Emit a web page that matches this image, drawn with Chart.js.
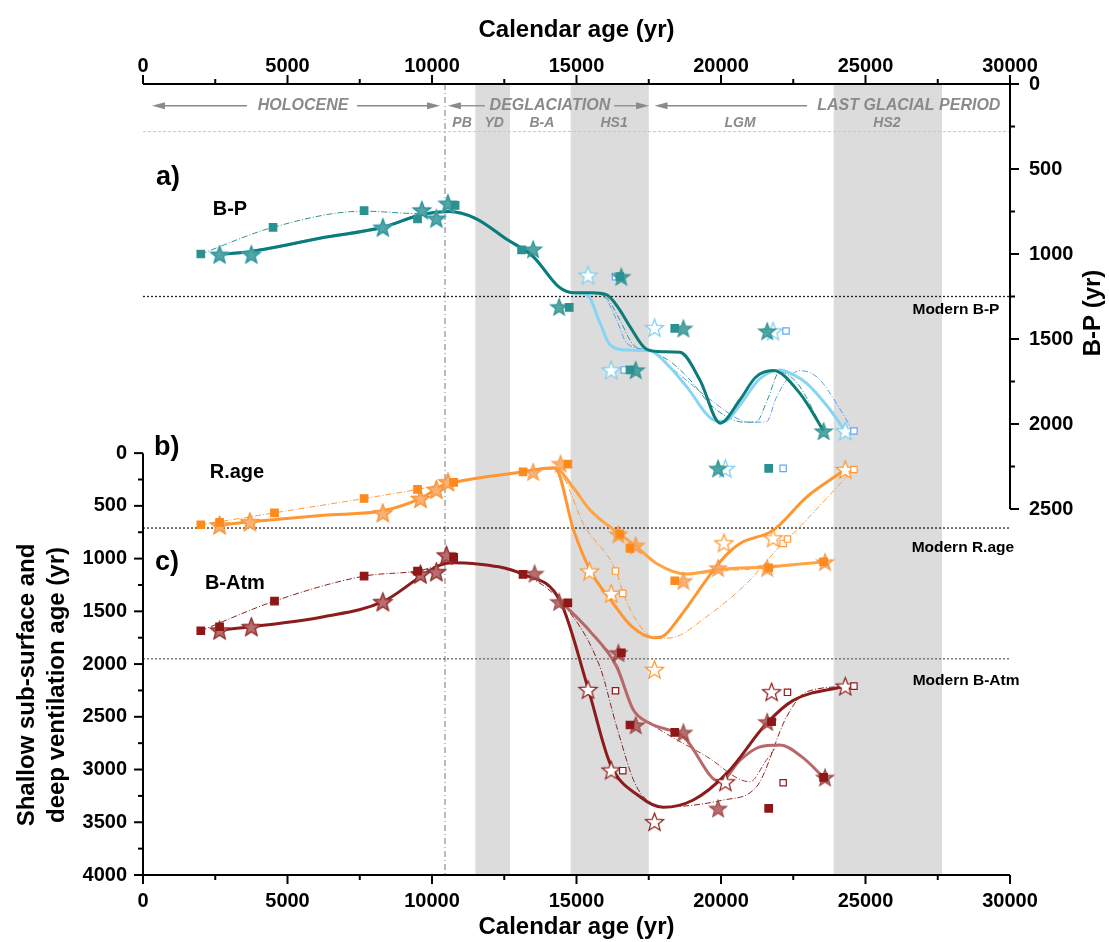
<!DOCTYPE html>
<html>
<head>
<meta charset="utf-8">
<script src="https://cdn.jsdelivr.net/npm/chart.js@4.4.0/dist/chart.umd.min.js"></script>
<style>
  body { margin: 0; background: #fff; }
  canvas { display: block; }
</style>
</head>
<body>
<canvas id="chart" width="1109" height="942"></canvas>
<script>
// Calendar age (yr) against ventilation ages (yr)

// a) B-P (right axis)
const bpSquares     = [[2000,1000],[4500,843],[7650,745],[9500,794],[10800,714],[13100,976],[14750,1314],[16500,1133],[16850,1682],[18400,1437],[21650,2261]];
const bpOpenSquares = [[16350,1133],[16650,1682],[22250,1453],[22150,2261],[24600,2041]];
const bpStars       = [[2650,1002],[3750,1002],[8300,843],[9650,741],[10150,790],[10550,702],[13500,971],[14400,1310],[16550,1133],[17050,1682],[18700,1437],[19900,2261],[21600,1453],[23550,2041]];
const bpOpenStars   = [[2650,1002],[3750,1002],[8300,843],[9650,741],[10150,790],[10550,702],[15400,1124],[16200,1682],[17700,1433],[20150,2261],[21800,1453],[24300,2041]];
const bpCurveA = [[2650,1002],[3750,985],[6200,905],[8300,843],[9650,768],[10600,750],[11500,790],[12600,915],[13500,1015],[14400,1195],[14900,1228],[15500,1228],[16050,1241],[16500,1330],[16850,1427],[17430,1561],[18000,1575],[18580,1578],[19270,1741],[19970,1995],[20650,1859],[21200,1725],[21800,1686],[22730,1820],[23550,2041]];
const bpCurveB = [[2650,1002],[3750,985],[6200,905],[8300,843],[9650,768],[10600,750],[11500,790],[12600,915],[13500,1015],[14400,1195],[14900,1228],[15350,1235],[15800,1400],[16160,1535],[16740,1565],[17540,1569],[18200,1660],[18810,1780],[19740,1976],[20100,1985],[20650,1890],[21300,1740],[22040,1682],[22500,1710],[22965,1761],[23700,1900],[24300,2041]];
const bpThinA  = [[2000,1000],[4500,843],[7650,748],[9500,762],[10550,750],[11500,790],[12600,915],[13500,1015],[14400,1195],[14900,1228],[15700,1232],[16100,1270],[16500,1388],[16970,1535],[17540,1569],[18300,1640],[18930,1741],[19600,1880],[20200,1957],[20800,1990],[21230,1986],[21600,1860],[22040,1692],[22400,1720],[22730,1780],[23550,2041]];
const bpThinB  = [[14400,1195],[14900,1228],[15700,1232],[16000,1260],[16390,1388],[16740,1525],[17540,1569],[18500,1700],[19500,1839],[20660,1976],[21000,1990],[21580,1986],[21900,1850],[22270,1741],[22730,1686],[23100,1700],[23430,1741],[24000,1880],[24580,2045]];

// b) R.age (left axis)
const raSquares     = [[2000,679],[2650,657],[4550,566],[7650,430],[9500,344],[10750,278],[13150,177],[14700,104],[16500,768],[16850,903],[18400,1210],[21650,1087],[23550,1030]];
const raOpenSquares = [[16350,1118],[16600,1330],[22150,856],[22300,815],[24600,155]];
const raStars       = [[2650,682],[3700,651],[8300,566],[9600,430],[10150,344],[10550,272],[13500,177],[14450,98],[16450,768],[17050,874],[18700,1210],[19900,1087],[21600,1087],[23600,1030]];
const raOpenStars   = [[2650,682],[3700,651],[8300,566],[9600,430],[10150,344],[10550,272],[15450,1118],[16200,1330],[17700,2050],[20100,850],[21800,803],[24300,155]];
const raCurveA = [[2650,682],[3700,651],[6250,588],[8300,547],[9600,430],[10280,319],[10750,278],[13150,177],[13850,145],[14250,140],[14900,730],[15470,1109],[16270,1425],[16900,1640],[17660,1750],[18000,1735],[18580,1551],[19740,1109],[20200,960],[20660,856],[21810,730],[22970,414],[24300,155]];
const raCurveB = [[13850,145],[14250,140],[14900,330],[15470,540],[16500,768],[17020,874],[17770,1046],[18810,1147],[19960,1102],[21670,1077],[23600,1030]];
const raThinA  = [[2000,679],[4550,566],[7650,430],[9500,344],[10750,278],[13150,180],[14250,140],[15300,700],[16370,1118],[16620,1330],[17200,1640],[17800,1756],[18300,1750],[19500,1551],[20890,1235],[22130,856],[22300,815],[24580,155]];
const raThinB  = [[14250,140],[15000,380],[15500,560],[16500,770],[17050,880],[17800,1050],[18800,1150],[19960,1120],[21670,1087],[23600,1030]];

// c) B-Atm (left axis)
const baSquares     = [[2000,1684],[2650,1646],[4550,1403],[7650,1166],[9500,1118],[10750,989],[13150,1150],[14700,1419],[16550,1893],[16850,2578],[18400,2648],[21650,3368],[21750,2547],[23550,3074]];
const baOpenSquares = [[16350,2253],[16600,3011],[22150,3125],[22300,2268],[24600,2209]];
const baStars       = [[2650,1678],[3750,1646],[8300,1409],[9600,1147],[10150,1125],[10500,967],[13550,1141],[14400,1409],[16450,1893],[17050,2578],[18700,2648],[19900,3368],[21600,2547],[23600,3074]];
const baOpenStars   = [[2650,1678],[3750,1646],[8300,1409],[9600,1147],[10150,1125],[10500,967],[15400,2240],[16200,3005],[17700,3494],[20150,3116],[21750,2262],[24300,2209]];
const baCurveA = [[2650,1678],[3750,1646],[6250,1551],[8300,1409],[9600,1172],[10280,1062],[10750,1040],[11400,1046],[13150,1150],[14430,1400],[15410,2240],[16160,2941],[17200,3258],[18000,3358],[19040,3289],[20200,3036],[21580,2562],[22500,2344],[24300,2209]];
const baCurveB = [[14430,1400],[15470,1690],[16390,2025],[16970,2436],[17540,2562],[18700,2689],[19960,3116],[20660,2910],[21300,2790],[22040,2768],[22800,2880],[23550,3074]];
const baThinA  = [[2000,1684],[4550,1403],[7650,1166],[9500,1118],[10750,1040],[11400,1046],[13150,1150],[14430,1400],[15810,2026],[16390,2594],[17080,3163],[18120,3353],[20080,3289],[21230,3163],[22270,2500],[22970,2262],[24580,2209]];
const baThinB  = [[14430,1400],[15470,1700],[16390,2000],[16970,2440],[17540,2562],[19500,2876],[21000,3116],[21600,2900],[22040,2768],[22800,2880],[23550,3074]];

// shaded events (yr) and reference levels
const bands = [[11500,12700],[14800,17500],[23900,27650]];
const boundaryAge = 10450;
const modernBP = 1250, modernRage = 710, modernBAtm = 1950;

const xTicks = [];
for (let v = 0; v <= 30000; v += 2500) xTicks.push(v);
const leftTicks = [];
for (let v = 0; v <= 4000; v += 250) leftTicks.push(v);
const rightTicks = [];
for (let v = 0; v <= 2500; v += 250) rightTicks.push(v);

const FONT = "'Liberation Sans', Arial, Helvetica, sans-serif";
Chart.defaults.font.family = FONT;
Chart.defaults.color = '#000';

const toXY = arr => arr.map(p => ({ x: p[0], y: p[1] }));

// five-point star marker
function starImage(fill, stroke, r) {
  const c = document.createElement('canvas');
  const s = Math.ceil(r * 2 + 4);
  c.width = s; c.height = s;
  const g = c.getContext('2d');
  g.translate(s / 2, s / 2 + r * 0.1);
  g.beginPath();
  for (let i = 0; i < 10; i++) {
    const rad = i % 2 ? r * 0.42 : r;
    const a = -Math.PI / 2 + i * Math.PI / 5;
    g.lineTo(Math.cos(a) * rad, Math.sin(a) * rad);
  }
  g.closePath();
  g.fillStyle = fill;
  g.fill();
  g.lineWidth = 1.2;
  g.strokeStyle = stroke;
  g.stroke();
  return c;
}

function curve(data, axis, color, width, dash) {
  return {
    data: toXY(data), yAxisID: axis, showLine: true, pointRadius: 0,
    borderColor: color, borderWidth: width, borderDash: dash || [],
    cubicInterpolationMode: 'monotone', fill: false
  };
}
function marks(data, axis, style, fill, stroke, r) {
  return {
    data: toXY(data), yAxisID: axis, showLine: false, pointStyle: style,
    pointRadius: r || 5.3, backgroundColor: fill, borderColor: stroke, borderWidth: 1.2
  };
}

const dashDot = [6, 2, 1, 2];

// markers first so they sit on top of the curves
const datasets = [
  marks(bpSquares, 'yR', 'rect', '#2a9190', '#2a9190'),
  marks(bpStars, 'yR', starImage('rgba(52,150,150,0.85)', 'rgba(40,140,140,0.9)', 9), '#000', '#000'),
  marks(bpOpenSquares, 'yR', 'rect', '#fff', '#5fa8f5', 4.5),
  marks(bpOpenStars, 'yR', starImage('#fff', '#78cdf2', 9.5), '#000', '#000'),

  marks(raSquares, 'yL', 'rect', '#ff8a1c', '#ff8a1c'),
  marks(raStars, 'yL', starImage('rgba(248,165,90,0.85)', 'rgba(245,150,70,0.9)', 9), '#000', '#000'),
  marks(raOpenSquares, 'yL', 'rect', '#fff', '#ff9a3a', 4.5),
  marks(raOpenStars, 'yL', starImage('#fff', '#ff9526', 9.5), '#000', '#000'),

  marks(baSquares, 'yL', 'rect', '#8e1717', '#8e1717'),
  marks(baStars, 'yL', starImage('rgba(172,85,85,0.85)', 'rgba(150,60,60,0.9)', 9), '#000', '#000'),
  marks(baOpenSquares, 'yL', 'rect', '#fff', '#8e1a1a', 4.5),
  marks(baOpenStars, 'yL', starImage('#fff', '#8e1a1a', 9.5), '#000', '#000'),

  curve(bpCurveA, 'yR', '#0d7b79', 3),
  curve(bpCurveB, 'yR', '#86d5f5', 3),
  curve(bpThinA, 'yR', '#2f9391', 1, dashDot),
  curve(bpThinB, 'yR', '#5b9cf0', 1, dashDot),

  curve(raCurveA, 'yL', '#ff9630', 3),
  curve(raCurveB, 'yL', '#ffa445', 3),
  curve(raThinA, 'yL', '#ff9a3a', 1, dashDot),
  curve(raThinB, 'yL', '#ff9a3a', 1, dashDot),

  curve(baCurveA, 'yL', '#8c1b1b', 3),
  curve(baCurveB, 'yL', '#b86868', 3),
  curve(baThinA, 'yL', '#8e2020', 1, dashDot),
  curve(baThinB, 'yL', '#9c3a3a', 1, dashDot)
];

// bands, reference lines, labels and hand-drawn axis lines
const overlay = {
  id: 'overlay',
  beforeDatasetsDraw(chart) {
    const { ctx, chartArea: ca, scales } = chart;
    const xs = scales.x, yR = scales.yR, yL = scales.yL;
    ctx.save();
    ctx.fillStyle = '#dcdcdc';
    bands.forEach(([a, b]) => {
      const x0 = xs.getPixelForValue(a), x1 = xs.getPixelForValue(b);
      ctx.fillRect(x0, ca.top, x1 - x0, ca.bottom - ca.top);
    });

    ctx.lineWidth = 1;
    ctx.strokeStyle = '#777';
    ctx.setLineDash([6, 3, 1, 3]);
    const xb = xs.getPixelForValue(boundaryAge);
    ctx.beginPath(); ctx.moveTo(xb, ca.top); ctx.lineTo(xb, ca.bottom); ctx.stroke();

    const hline = (y, color, dash, w) => {
      ctx.strokeStyle = color; ctx.setLineDash(dash); ctx.lineWidth = w;
      ctx.beginPath(); ctx.moveTo(ca.left, y); ctx.lineTo(ca.right, y); ctx.stroke();
    };
    hline(yR.getPixelForValue(280), '#c8c8c8', [3, 2], 1);
    hline(yR.getPixelForValue(modernBP), '#222', [2, 2], 1.3);
    hline(yL.getPixelForValue(modernRage), '#222', [2, 2], 1.3);
    hline(yL.getPixelForValue(modernBAtm), '#777', [2, 2], 1.5);
    ctx.restore();
  },
  afterDatasetsDraw(chart) {
    const { ctx, scales } = chart;
    const xs = scales.x, yR = scales.yR, yL = scales.yL;
    const px = v => xs.getPixelForValue(v);
    ctx.save();
    ctx.textAlign = 'center';
    ctx.textBaseline = 'middle';

    // climate periods
    const grey = '#8a8a8a';
    ctx.fillStyle = grey;
    ctx.font = `italic bold 16px ${FONT}`;
    const yTop = yR.getPixelForValue(128);
    ctx.fillText('HOLOCENE', px(5540), yTop);
    ctx.fillText('DEGLACIATION', px(14080), yTop);
    ctx.fillText('LAST GLACIAL PERIOD', px(26500), yTop);
    ctx.font = `italic bold 14px ${FONT}`;
    const ySub = yR.getPixelForValue(228);
    [['PB', 11040], ['YD', 12150], ['B-A', 13800], ['HS1', 16300], ['LGM', 20660], ['HS2', 25740]]
      .forEach(([t, v]) => ctx.fillText(t, px(v), ySub));

    const arrow = (from, to, y) => {
      const x0 = px(from), x1 = px(to);
      const dir = Math.sign(x1 - x0);
      ctx.strokeStyle = grey; ctx.lineWidth = 1.3;
      ctx.beginPath(); ctx.moveTo(x0, y); ctx.lineTo(x1 - dir * 10, y); ctx.stroke();
      ctx.beginPath();
      ctx.moveTo(x1, y); ctx.lineTo(x1 - dir * 13, y - 3.5); ctx.lineTo(x1 - dir * 13, y + 3.5);
      ctx.closePath(); ctx.fill();
    };
    arrow(3600, 310, yTop);
    arrow(7400, 10280, yTop);
    arrow(11830, 10550, yTop);
    arrow(16300, 17510, yTop);
    arrow(22980, 17700, yTop);

    // panel and series labels
    ctx.fillStyle = '#000';
    ctx.font = `bold 27px ${FONT}`;
    ctx.fillText('a)', px(865), yR.getPixelForValue(553));
    ctx.fillText('b)', px(820), yL.getPixelForValue(-50));
    ctx.fillText('c)', px(830), yL.getPixelForValue(1040));
    ctx.font = `bold 20px ${FONT}`;
    ctx.fillText('B-P', px(3010), yR.getPixelForValue(741));
    ctx.fillText('R.age', px(3250), yL.getPixelForValue(180));
    ctx.fillText('B-Atm', px(3180), yL.getPixelForValue(1232));
    ctx.font = `bold 15.5px ${FONT}`;
    ctx.fillText('Modern B-P', px(28130), yR.getPixelForValue(1330));
    ctx.fillText('Modern R.age', px(28370), yL.getPixelForValue(900));
    ctx.fillText('Modern B-Atm', px(28480), yL.getPixelForValue(2161));
    ctx.restore();
  },
  afterDraw(chart) {
    const { ctx, chartArea: ca, scales } = chart;
    const xs = scales.x, yR = scales.yR, yL = scales.yL;
    ctx.save();
    ctx.strokeStyle = '#000';
    ctx.lineWidth = 2;
    ctx.setLineDash([]);
    const seg = (a, b, c, d) => { ctx.beginPath(); ctx.moveTo(a, b); ctx.lineTo(c, d); ctx.stroke(); };

    seg(ca.left, ca.bottom, ca.right, ca.bottom);
    seg(ca.left, ca.top, ca.right, ca.top);
    xTicks.forEach(v => {
      const x = xs.getPixelForValue(v);
      const len = v % 5000 === 0 ? 9 : 5;
      seg(x, ca.bottom, x, ca.bottom + len);
      seg(x, ca.top, x, ca.top - len);
    });

    const l0 = yL.getPixelForValue(0), l1 = yL.getPixelForValue(4000);
    seg(ca.left, l0, ca.left, l1);
    leftTicks.forEach(v => {
      const y = yL.getPixelForValue(v);
      seg(ca.left, y, ca.left - (v % 500 === 0 ? 9 : 5), y);
    });

    const r1 = yR.getPixelForValue(2500);
    seg(ca.right, ca.top, ca.right, r1);
    rightTicks.forEach(v => {
      const y = yR.getPixelForValue(v);
      seg(ca.right, y, ca.right + (v % 500 === 0 ? 9 : 5), y);
    });

    // rotated y-axis titles
    ctx.fillStyle = '#000';
    ctx.textAlign = 'center';
    ctx.textBaseline = 'middle';
    ctx.font = `bold 24px ${FONT}`;
    ctx.save();
    ctx.translate(27, 685);
    ctx.rotate(-Math.PI / 2);
    ctx.fillText('Shallow sub-surface and', 0, 0);
    ctx.fillText('deep ventilation age (yr)', 0, 30);
    ctx.restore();
    ctx.save();
    ctx.translate(1093, 313);
    ctx.rotate(-Math.PI / 2);
    ctx.fillText('B-P (yr)', 0, 0);
    ctx.restore();
    ctx.restore();
  }
};

const tickFont = { size: 20, weight: 'bold' };
const titleFont = { size: 24, weight: 'bold' };

new Chart(document.getElementById('chart'), {
  type: 'scatter',
  data: { datasets },
  options: {
    responsive: false,
    animation: false,
    layout: { padding: 0 },
    plugins: { legend: { display: false }, tooltip: { enabled: false } },
    scales: {
      x: {
        type: 'linear', position: 'bottom', min: 0, max: 30000,
        afterBuildTicks: s => { s.ticks = xTicks.map(v => ({ value: v })); },
        ticks: { callback: v => (v % 5000 === 0 ? String(v) : ''), font: tickFont, color: '#000', padding: 6, maxRotation: 0, autoSkip: false },
        grid: { display: false }, border: { display: false },
        title: { display: true, text: 'Calendar age (yr)', font: titleFont, color: '#000', padding: { top: 0, bottom: 0 } },
        afterFit: s => { s.height = 67; }
      },
      x2: {
        type: 'linear', position: 'top', min: 0, max: 30000,
        afterBuildTicks: s => { s.ticks = xTicks.map(v => ({ value: v })); },
        ticks: { callback: v => (v % 5000 === 0 ? String(v) : ''), font: tickFont, color: '#000', padding: -2, maxRotation: 0, autoSkip: false },
        grid: { display: false }, border: { display: false },
        title: { display: true, text: 'Calendar age (yr)', font: titleFont, color: '#000', padding: { top: 16, bottom: 0 } },
        afterFit: s => { s.height = 84; }
      },
      yL: {
        type: 'linear', position: 'left', min: -3500, max: 4000, reverse: true,
        afterBuildTicks: s => { s.ticks = leftTicks.map(v => ({ value: v })); },
        ticks: { callback: v => (v % 500 === 0 ? String(v) : ''), font: tickFont, color: '#000', padding: 8, autoSkip: false },
        grid: { display: false }, border: { display: false },
        afterFit: s => { s.width = 143; }
      },
      yR: {
        type: 'linear', position: 'right', min: 0, max: 4653, reverse: true,
        afterBuildTicks: s => { s.ticks = rightTicks.map(v => ({ value: v })); },
        ticks: { callback: v => (v % 500 === 0 ? String(v) : ''), font: tickFont, color: '#000', padding: 11, autoSkip: false },
        grid: { display: false }, border: { display: false },
        afterFit: s => { s.width = 99; }
      }
    }
  },
  plugins: [overlay]
});
</script>
</body>
</html>
